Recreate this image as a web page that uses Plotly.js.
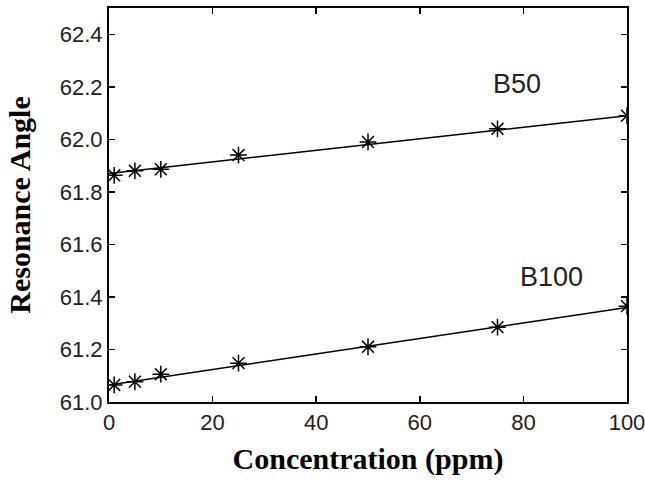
<!DOCTYPE html>
<html>
<head>
<meta charset="utf-8">
<script src="https://cdn.plot.ly/plotly-3.0.1.min.js"></script>
<style>html,body{margin:0;padding:0;background:#fff;}#chart{width:645px;height:482px;}</style>
</head>
<body>
<div id="chart"></div>
<script>
const concentration = [1, 5, 10, 25, 50, 75, 100];
const b50 = [61.863, 61.88, 61.886, 61.94, 61.99, 62.04, 62.09];
const b100 = [61.065, 61.077, 61.106, 61.148, 61.21, 61.285, 61.365];
const fitX = [0, 100];
const fitB50 = [61.87, 62.09];
const fitB100 = [61.065, 61.36];
const labels = ["B50", "B100"];
const labelX = [78.8, 85.5];
const labelY = [62.21, 61.475];
const yTicks = [61.0, 61.2, 61.4, 61.6, 61.8, 62.0, 62.2, 62.4];
const xTicks = [0, 20, 40, 60, 80, 100];

const lineStyle = {color: '#000', width: 1.5};
const markerStyle = {symbol: 'asterisk-open', size: 14, color: '#000', line: {color: '#000', width: 1.5}};

const data = [
  {x: fitX, y: fitB50, mode: 'lines', line: lineStyle, hoverinfo: 'skip'},
  {x: fitX, y: fitB100, mode: 'lines', line: lineStyle, hoverinfo: 'skip'},
  {x: concentration, y: b50, mode: 'markers', marker: markerStyle},
  {x: concentration, y: b100, mode: 'markers', marker: markerStyle}
];

const tickFont = {family: 'Liberation Sans, Arial, sans-serif', size: 22, color: '#222'};
const titleFont = {family: 'Liberation Serif, Times New Roman, serif', size: 30, color: '#000', weight: 'bold'};

const layout = {
  width: 645, height: 482,
  margin: {l: 109, r: 18, t: 8, b: 80},
  paper_bgcolor: '#fff', plot_bgcolor: '#fff',
  showlegend: false,
  font: tickFont,
  xaxis: {
    range: [0, 100], tickvals: xTicks, ticktext: xTicks.map(String),
    ticks: 'inside', ticklen: 6, tickwidth: 1.5, tickcolor: '#000',
    showline: true, linecolor: '#000', linewidth: 2, mirror: 'ticks',
    showgrid: false, zeroline: false, tickfont: tickFont, ticklabeloverflow: 'allow',
    title: {text: 'Concentration (ppm)', font: titleFont, standoff: 14}
  },
  yaxis: {
    range: [61.0, 62.5], tickvals: yTicks, ticktext: yTicks.map(v => v.toFixed(1)),
    ticks: 'inside', ticklen: 6, tickwidth: 1.5, tickcolor: '#000',
    showline: true, linecolor: '#000', linewidth: 2, mirror: 'ticks',
    showgrid: false, zeroline: false, tickfont: tickFont, ticklabeloverflow: 'allow',
    title: {text: 'Resonance Angle', font: titleFont, standoff: 20}
  },
  annotations: labels.map((t, i) => ({
    x: labelX[i], y: labelY[i], xref: 'x', yref: 'y', text: t, showarrow: false,
    font: {family: 'Liberation Sans, Arial, sans-serif', size: 27, color: '#222'}
  }))
};

Plotly.newPlot('chart', data, layout, {displayModeBar: false, staticPlot: true});
</script>
</body>
</html>
